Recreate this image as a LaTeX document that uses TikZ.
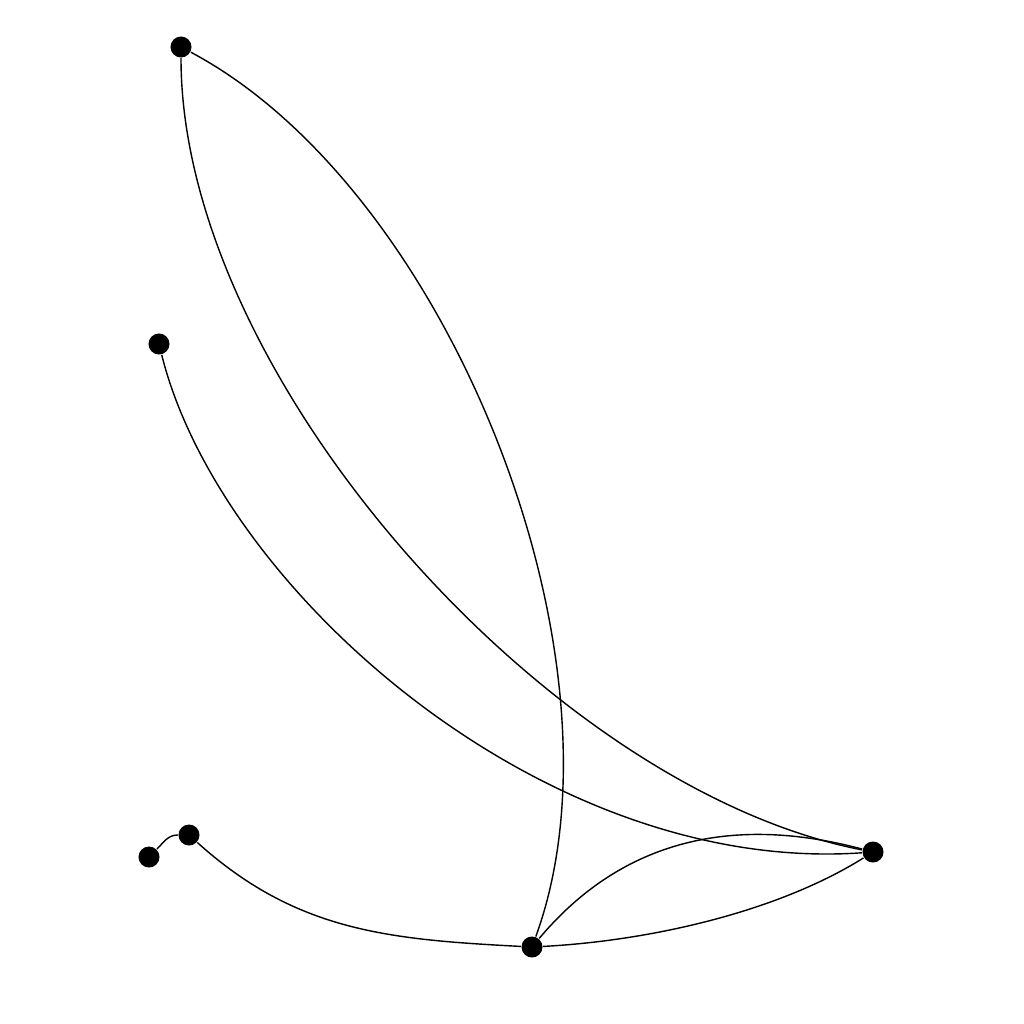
\documentclass[tikz,border=0pt]{standalone}
\usepackage{tikz}
\usetikzlibrary{positioning}
\tikzset{dot/.style={circle,fill=black,inner sep=0pt,minimum size=0.21cm}}
\begin{document}
\begin{tikzpicture}[x=0.01cm,y=-0.01cm]
    \useasboundingbox (0,0) rectangle (1024,1024);
    \node[dot] (a) at (181,47) {};
    \node[dot] (b) at (159,344) {};
    \node[dot] (c) at (189,835) {};
    \node[dot] (d) at (149,857) {};
    \node[dot] (e) at (532,947) {};
    \node[dot] (f) at (873,852) {};
    \draw (a) to[out=-90,in=169,looseness=0.78] (f);
    \draw (a) to[out=-28,in=70,looseness=0.79] (e);
    \draw (b) to[out=-76,in=-176,out looseness=0.72,in looseness=0.95] (f);
    \draw (d) to[out=45,in=180] (c);
    \draw (c) to[out=-42,in=177] (e);
    \draw (e) to[out=3,in=-148,looseness=0.8] (f);
    \draw (e) to[out=50,in=165] (f);
  \end{tikzpicture}
\end{document}
